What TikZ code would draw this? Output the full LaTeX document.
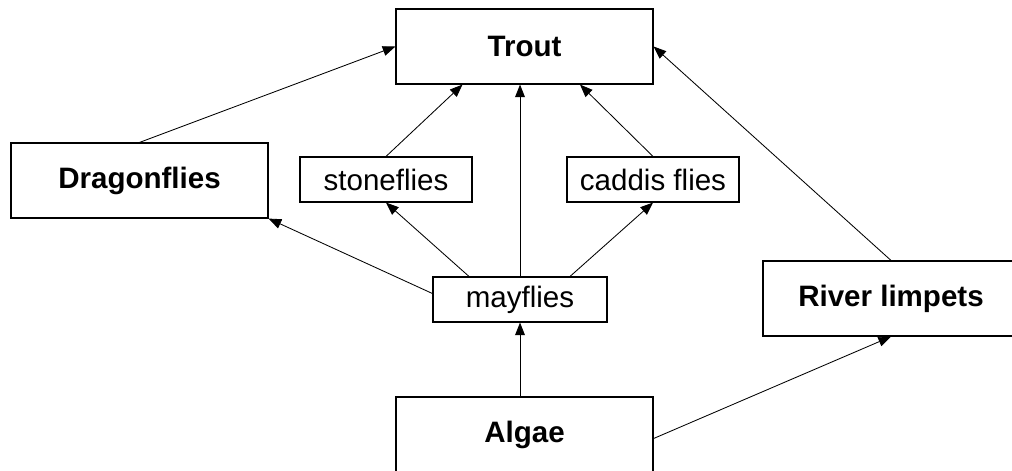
\documentclass[tikz,border=0pt]{standalone}
\usepackage{fontspec}
\setmainfont{Liberation Sans}
\usetikzlibrary{arrows.meta,calc}

\begin{document}
\begin{tikzpicture}[x=0.025cm,y=-0.025cm,
        >={Triangle[length=9pt,width=7pt]},
        every node/.style={draw,line width=0.8pt,inner sep=0pt,font=\fontsize{21}{24}\selectfont},
        bigbox/.style={minimum width=6.425cm,minimum height=1.875cm,font=\fontsize{21}{24}\selectfont\bfseries},
        smallbox/.style={minimum width=4.3cm,minimum height=1.125cm}]
        \useasboundingbox (0,0) rectangle (1012,470);
        \node[bigbox] (trout) at (524.5,46.5) {Trout};
        \node[bigbox] (drag) at (139.5,180.5) {Dragonflies};
        \node[smallbox] (stone) at (386,179.5) {stoneflies};
        \node[smallbox] (caddis) at (653,179.5) {caddis flies};
        \node[smallbox,minimum width=4.35cm] (may) at (520,299.5) {mayflies};
        \node[bigbox,minimum width=6.4cm] (limp) at (891,298.5) {River limpets};
        \node[bigbox] (algae) at (524.5,434.5) {Algae};
        \draw[->,line width=0.6pt] (drag.north) -- (trout.west);
        \draw[->,line width=0.6pt] (stone.north) -- ($(trout.south)+(-62,0)$);
        \draw[->,line width=0.6pt] (may.north) -- (trout.south -| may.north);
        \draw[->,line width=0.6pt] (caddis.north) -- ($(trout.south)+(55.5,0)$);
        \draw[->,line width=0.6pt] (limp.north) -- (trout.east);
        \draw[->,line width=0.6pt] ($(may.north)+(-51,0)$) -- (stone.south);
        \draw[->,line width=0.6pt] ($(may.north)+(50,0)$) -- (caddis.south);
        \draw[->,line width=0.6pt] ($(may.west)+(0,-6)$) -- (drag.south east);
        \draw[->,line width=0.6pt] (algae.north -| may.south) -- (may.south);
        \draw[->,line width=0.6pt] ($(algae.east)+(0,4)$) -- (limp.south);
    \end{tikzpicture}
\end{document}
